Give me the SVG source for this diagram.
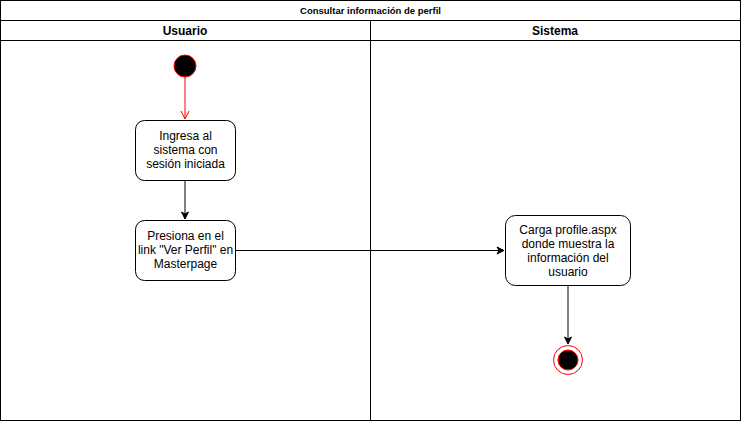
<svg xmlns="http://www.w3.org/2000/svg" width="741" height="421" viewBox="0 0 741 421">
<style>
text{font-family:"Liberation Sans",Arial,sans-serif;fill:#000}
.t{font-size:12px;text-anchor:middle}
.h{font-size:12px;font-weight:bold;text-anchor:middle}
.box{fill:#fff;stroke:#000;stroke-width:1}
.ln{fill:none;stroke:#000;stroke-width:1}
</style>
<defs>
<marker id="a" markerWidth="10" markerHeight="10" refX="8" refY="5" orient="auto" markerUnits="userSpaceOnUse">
<path d="M1,1.5 L8,5 L1,8.5 L3,5 Z" fill="#000" stroke="#000"/>
</marker>
<marker id="o" markerWidth="12" markerHeight="12" refX="6" refY="10" orient="0" markerUnits="userSpaceOnUse">
<path d="M2,2 L6,10 L10,2" fill="none" stroke="#ff0000"/>
</marker>
</defs>
<rect width="741" height="421" fill="#fff"/>
<g id="pool">
<rect x="0.5" y="0.5" width="740" height="420" class="ln"/>
<line x1="0.5" y1="20.5" x2="740.5" y2="20.5" class="ln"/>
<line x1="0.5" y1="40.5" x2="740.5" y2="40.5" class="ln"/>
<line x1="370.5" y1="20.5" x2="370.5" y2="420.5" class="ln"/>
<text x="370.5" y="14" style="font-size:9.5px;font-weight:bold" text-anchor="middle">Consultar información de perfil</text>
<text x="185" y="35" class="h">Usuario</text>
<text x="555" y="35" class="h">Sistema</text>
</g>
<g id="connectors">
<line x1="185" y1="77" x2="185" y2="119" stroke="#ff0000" marker-end="url(#o)"/>
<line x1="185" y1="180" x2="185" y2="219" class="ln" marker-end="url(#a)"/>
<line x1="235" y1="250.5" x2="504" y2="250.5" class="ln" marker-end="url(#a)"/>
<line x1="568" y1="285" x2="568" y2="344" class="ln" marker-end="url(#a)"/>
</g>
<g id="start">
<circle cx="185" cy="66" r="11" fill="#000" stroke="#ff0000"/>
</g>
<g id="n1">
<rect x="135.5" y="120.5" width="100" height="60" rx="9" class="box"/>
<text x="185.5" y="140" class="t">Ingresa al</text>
<text x="185.5" y="154" class="t">sistema con</text>
<text x="185.5" y="168" class="t">sesión iniciada</text>
</g>
<g id="n2">
<rect x="135.5" y="220.5" width="100" height="60" rx="9" class="box"/>
<text x="185.5" y="240" class="t">Presiona en el</text>
<text x="185.5" y="254" class="t">link "Ver Perfil" en</text>
<text x="185.5" y="268" class="t">Masterpage</text>
</g>
<g id="n3">
<rect x="505.5" y="215.5" width="125" height="70" rx="10" class="box"/>
<text x="568" y="234" class="t">Carga profile.aspx</text>
<text x="568" y="248" class="t">donde muestra la</text>
<text x="568" y="262" class="t">información del</text>
<text x="568" y="276" class="t">usuario</text>
</g>
<g id="end">
<circle cx="568" cy="360" r="14.5" fill="#fff" stroke="#ff0000"/>
<circle cx="568" cy="360" r="10" fill="#000" stroke="#ff0000"/>
</g>
</svg>
